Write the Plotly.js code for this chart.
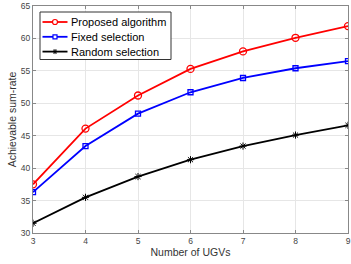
<!DOCTYPE html>
<html><head><meta charset="utf-8">
<script src="https://cdn.plot.ly/plotly-3.0.1.min.js"></script>
<style>body{margin:0;background:#fff}#c{width:351px;height:264px}</style>
</head><body><div id="c"></div>
<script>
const ugvs = [3, 4, 5, 6, 7, 8, 9];
const proposed = [37.5, 46.1, 51.2, 55.3, 58.0, 60.1, 61.9];
const fixedSel = [36.3, 43.4, 48.4, 51.7, 53.9, 55.4, 56.5];
const randomSel = [31.5, 35.5, 38.7, 41.3, 43.4, 45.1, 46.6];
const names = ['Proposed algorithm', 'Fixed selection', 'Random selection'];
const colors = ['#ff0000', '#0000ff', '#000000'];

const mk = (y, i, symbol, size, lw) => ({
  x: ugvs, y: y, name: names[i], type: 'scatter', mode: 'lines+markers',
  showlegend: false,
  line: {color: colors[i], width: 1.8},
  marker: {symbol: symbol, size: size, color: colors[i], line: {color: colors[i], width: lw}}
});
const data = [
  mk(proposed, 0, 'circle-open', 7, 1.3),
  mk(fixedSel, 1, 'square-open', 5, 1.3),
  mk(randomSel, 2, 'asterisk-open', 6, 1)
];

// Manual legend (MATLAB-style compact box), in paper coordinates
const W = 315, H = 227; // plot-area size in px
const px = v => v / W, py = v => v / H;
const box = {x0: px(7), x1: px(138), y1: 1 - py(6), y0: 1 - py(53.5)};
const rowY = i => 1 - py(16 + i * 14.8);
const lineX0 = px(9.5), lineX1 = px(34.5), markX = px(22), textX = px(36);
const shapes = [{type: 'rect', xref: 'paper', yref: 'paper', x0: box.x0, x1: box.x1, y0: box.y0, y1: box.y1,
  fillcolor: '#fff', line: {color: '#333', width: 1}}];
const annotations = [];
names.forEach((n, i) => {
  const y = rowY(i), c = colors[i];
  shapes.push({type: 'line', xref: 'paper', yref: 'paper', x0: lineX0, x1: lineX1, y0: y, y1: y,
    line: {color: c, width: 1.8}});
  const base = {xref: 'paper', yref: 'paper', xsizemode: 'pixel', ysizemode: 'pixel', xanchor: markX, yanchor: y};
  if (i === 0) {
    shapes.push(Object.assign({type: 'circle', x0: -2.5, x1: 2.5, y0: -2.5, y1: 2.5,
      fillcolor: '#fff', line: {color: c, width: 1.2}}, base));
  } else if (i === 1) {
    shapes.push(Object.assign({type: 'rect', x0: -2, x1: 2, y0: -2, y1: 2,
      fillcolor: '#fff', line: {color: c, width: 1.2}}, base));
  } else {
    [[-2.5, 0, 2.5, 0], [-1.8, -1.8, 1.8, 1.8], [-1.8, 1.8, 1.8, -1.8], [0, -2.5, 0, 2.5]].forEach(s => {
      shapes.push(Object.assign({type: 'line', x0: s[0], y0: s[1], x1: s[2], y1: s[3],
        line: {color: c, width: 1}}, base));
    });
  }
  annotations.push({xref: 'paper', yref: 'paper', x: textX, y: y, xanchor: 'left', yanchor: 'middle',
    text: n, showarrow: false, font: {size: 11, color: '#000'}});
});

const ax = {
  showgrid: true, gridcolor: '#e6e6e6', gridwidth: 1,
  showline: true, mirror: 'ticks', linecolor: '#888', linewidth: 1,
  ticks: 'inside', ticklen: 3, tickcolor: '#888',
  tickfont: {family: 'Liberation Sans, Arial', size: 8.5, color: '#444'},
  zeroline: false
};
const layout = {
  width: 351, height: 264,
  margin: {l: 33, r: 3, t: 6, b: 31},
  paper_bgcolor: '#fff', plot_bgcolor: '#fff',
  font: {family: 'Liberation Sans, Arial', color: '#333'},
  xaxis: Object.assign({}, ax, {range: [3, 9], dtick: 1,
    title: {text: 'Number of UGVs', font: {size: 10.5, color: '#333'}, standoff: 3}}),
  yaxis: Object.assign({}, ax, {range: [30, 65], dtick: 5,
    title: {text: 'Achievable sum-rate', font: {size: 10.5, color: '#333'}, standoff: 2}}),
  showlegend: false,
  shapes: shapes,
  annotations: annotations
};
Plotly.newPlot('c', data, layout, {displayModeBar: false, staticPlot: true});
</script></body></html>
